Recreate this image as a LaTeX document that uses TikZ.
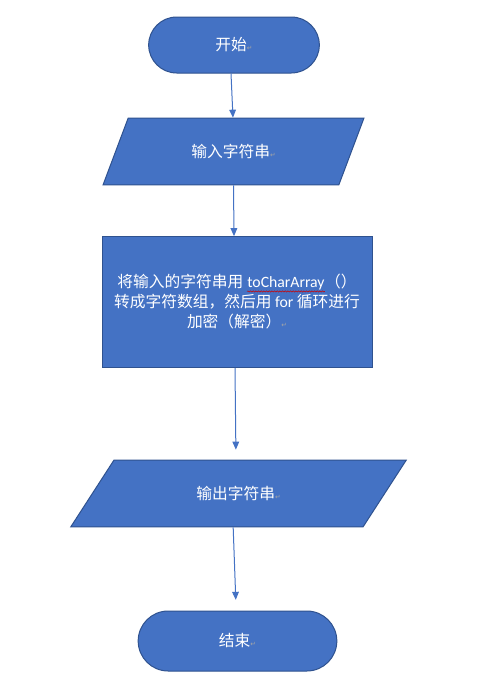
\documentclass[tikz,border=0pt]{standalone}
\usepackage{fontspec}
\setmainfont{Noto Sans CJK SC}
\newfontfamily\latinfont{Carlito}
\newfontfamily\symfont{DejaVu Sans}
\usetikzlibrary{shapes.misc,shapes.geometric,arrows.meta,decorations.pathmorphing}
\definecolor{boxblue}{HTML}{4472C4}
\definecolor{edgeblue}{HTML}{2F528F}
% kleine Absatzmarke hinter den Texten
\newcommand{\retmark}{{\symfont\fontsize{5}{5}\selectfont\color{gray!70}↵}}
% rote Wellenlinie unter einem Wort
\newcommand{\wavyword}[1]{\tikz[baseline=(w.base)]{\node[inner sep=0pt, minimum width=0pt, minimum height=0pt, draw=none, fill=none] (w) {#1};
  \draw[red!80!black, line width=0.4pt, decorate, decoration={snake, amplitude=0.45pt, segment length=2pt}]
    ([yshift=-2.6pt]w.base west) -- ([yshift=-2.6pt]w.base east);}}

\begin{document}
\begin{tikzpicture}[x=0.75pt, y=-0.75pt,
	box/.style={draw=edgeblue, fill=boxblue, text=white, line width=0.75pt, font=\fontsize{11.8}{15}\selectfont},
	term/.style={box, rounded rectangle, inner sep=0pt},
	io/.style={box, trapezium, trapezium stretches=true, inner sep=0pt},
	proc/.style={box, rectangle, align=center, inner sep=0pt},
	flow/.style={draw=boxblue, line width=0.75pt, -{Triangle[length=6pt, width=5pt]}}]
	\fill[white] (0,0) rectangle (482,678);
	\useasboundingbox (0,0) rectangle (482,678);
	% Kästen
	\node[term, minimum width=128pt, minimum height=42pt] (start) at (234,45) {开始\retmark};
	\node[io, trapezium left angle=55.5, trapezium right angle=124.5, minimum width=197pt, minimum height=50pt] (in) at (233.5,151.5) {输入字符串\retmark};
	\node[proc, minimum width=202.5pt, minimum height=98pt] (conv) at (237,302)
		{将输入的字符串用 \wavyword{\latinfont toCharArray}（）\\
		 转成字符数组，然后用 {\latinfont for} 循环进行\\
		 加密（解密）\retmark};
	\node[io, trapezium left angle=45, trapezium right angle=135, minimum width=253pt, minimum height=50pt] (out) at (238.5,493.5) {输出字符串\retmark};
	\node[term, minimum width=149pt, minimum height=45pt] (stop) at (237.5,641) {结束\retmark};
	% Pfeile
	\draw[flow] ([xshift=-2.25pt]start.south) -- ([xshift=-0.4pt]in.north);
	\draw[flow] (in.south) -- ([xshift=-2.25pt]conv.north);
	\draw[flow, shorten >=7.5pt] ([xshift=-1.5pt]conv.south) -- ([xshift=-1.9pt]out.north);
	\draw[flow, shorten >=8pt] ([xshift=-4pt]out.south) -- ([xshift=-1pt]stop.north);
\end{tikzpicture}
\end{document}
